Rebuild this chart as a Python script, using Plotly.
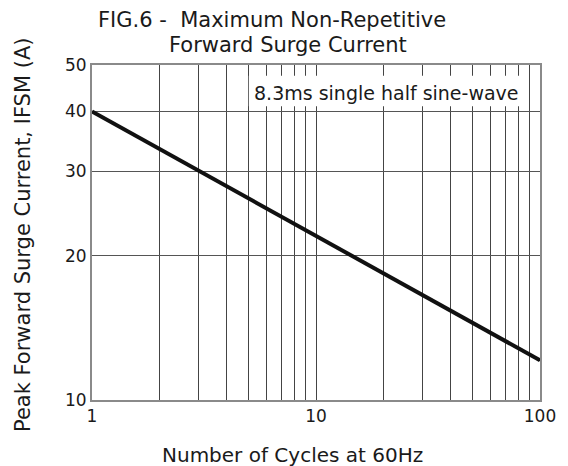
import plotly.graph_objects as go

# Data
cycles = [1, 100]
surge_current = [40, 12.1]

x_tickvals = [1, 10, 100]
x_ticktext = ["1", "10", "100"]
x_minor = [2, 3, 4, 5, 6, 7, 8, 9, 20, 30, 40, 50, 60, 70, 80, 90]
y_tickvals = [10, 20, 30, 40, 50]
y_ticktext = ["10", "20", "30", "40", "50"]

title_line1 = "FIG.6 -  Maximum Non-Repetitive"
title_line2 = "Forward Surge Current"
x_title = "Number of Cycles at 60Hz"
y_title = "Peak Forward Surge Current, IFSM (A)"
note = "8.3ms single half sine-wave"

FONT = "DejaVu Sans"
TXT = "#1a1a1a"

fig = go.Figure()
fig.add_trace(go.Scatter(x=cycles, y=surge_current, mode="lines",
                         line=dict(color="#111111", width=4), showlegend=False,
                         hoverinfo="skip"))

fig.update_layout(
    width=568, height=466,
    margin=dict(l=84, r=36, t=57, b=74),
    paper_bgcolor="white", plot_bgcolor="white",
    font=dict(family=FONT, color=TXT),
    xaxis=dict(type="log", range=[0, 2], tickvals=x_tickvals, ticktext=x_ticktext,
               tickfont=dict(size=17, color=TXT, family=FONT), ticks="", ticklen=0,
               showgrid=True, gridcolor="#444444", gridwidth=1,
               minor=dict(tickvals=x_minor, showgrid=True, gridcolor="#444444", gridwidth=1, ticks=""),
               showline=True, linecolor="#8a8a8a", linewidth=2, mirror=True,
               zeroline=False),
    yaxis=dict(type="log", range=[1, 1.69897], tickvals=y_tickvals, ticktext=y_ticktext,
               tickfont=dict(size=17, color=TXT, family=FONT), ticks="", ticklen=0,
               showgrid=True, gridcolor="#555555", gridwidth=1,
               showline=True, linecolor="#8a8a8a", linewidth=2, mirror=True,
               zeroline=False),
    shapes=[dict(type="rect", xref="paper", yref="paper",
                 x0=0.350, x1=0.971, y0=0.877, y1=0.968,
                 fillcolor="white", line=dict(width=0), layer="above")],
    annotations=[
        dict(text=title_line1, xref="paper", yref="paper", x=(96 - 92) / 448, y=(400 - 20) / 335,
             xanchor="left", yanchor="middle", showarrow=False,
             font=dict(size=21, family=FONT, color=TXT)),
        dict(text=title_line2, xref="paper", yref="paper", x=(167 - 92) / 448, y=(400 - 45) / 335,
             xanchor="left", yanchor="middle", showarrow=False,
             font=dict(size=21, family=FONT, color=TXT)),
        dict(text=note, xref="paper", yref="paper", x=(386 - 92) / 448, y=(400 - 93) / 335,
             xanchor="center", yanchor="middle", showarrow=False,
             font=dict(size=19, family=FONT, color=TXT)),
        dict(text=x_title, xref="paper", yref="paper", x=(292 - 92) / 448, y=(400 - 455) / 335,
             xanchor="center", yanchor="middle", showarrow=False,
             font=dict(size=20, family=FONT, color=TXT)),
        dict(text=y_title, xref="paper", yref="paper", x=(23 - 92) / 448, y=(400 - 235) / 335,
             xanchor="center", yanchor="middle", showarrow=False, textangle=-90,
             font=dict(size=21, family=FONT, color=TXT)),
    ],
)

fig.write_html("out.html")
